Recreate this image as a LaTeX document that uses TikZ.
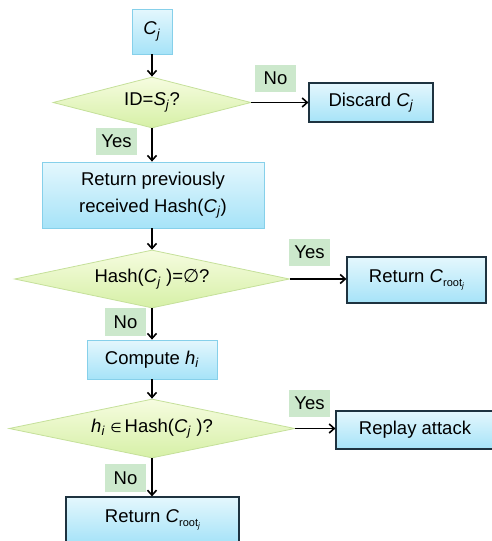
\documentclass[tikz,border=0pt]{standalone}
\usepackage{fontspec}
\setmainfont{Liberation Sans}
\newfontfamily\symf{DejaVu Sans}
\usetikzlibrary{shapes.geometric,arrows.meta}
\definecolor{boxtop}{HTML}{E4F7FD}
\definecolor{boxbot}{HTML}{A6E3F8}
\definecolor{boxline}{HTML}{86D0EA}
\definecolor{darkline}{HTML}{1E3340}
\definecolor{dtop}{HTML}{F6FCE0}
\definecolor{dbot}{HTML}{D6F0A6}
\definecolor{dline}{HTML}{C5E09A}
\definecolor{lblfill}{HTML}{CCE8CC}
\newcommand{\Cj}{\textit{C}\textsubscript{\textit{j}}}
\newcommand{\Croot}{\textit{C}{\fontsize{11}{13}\selectfont\raisebox{-4pt}{root\raisebox{-2pt}{\fontsize{8}{9}\selectfont\textit{j}}}}}
\tikzset{
  base/.style={inner sep=0pt, align=center, font=\fontsize{18.5}{27}\selectfont},
  lightbox/.style={base, rectangle, draw=boxline, line width=0.8pt, top color=boxtop, bottom color=boxbot},
  darkbox/.style={base, rectangle, draw=darkline, line width=1.2pt, top color=boxtop, bottom color=boxbot},
  decision/.style={base, diamond, draw=dline, line width=0.8pt, top color=dtop, bottom color=dbot},
  lbl/.style={base, rectangle, fill=lblfill, minimum width=41pt, minimum height=27pt},
  flow/.style={line width=1.8pt, -{Straight Barb[length=5pt,width=9pt,line width=1.6pt]}}
}
\begin{document}
\begin{tikzpicture}[x=1pt,y=1pt]
\useasboundingbox (0,0) rectangle (492,-541);
\clip (0,0) rectangle (492,-541);
\node[lightbox, minimum width=40pt, minimum height=45pt] (cj) at (152,-31.5) {\Cj};
\node[decision, minimum width=198pt, minimum height=51pt, aspect=3.9] (d1) at (152,-102.5) {ID=\textit{S}\textsubscript{\textit{j}}?};
\node[darkbox, minimum width=124pt, minimum height=39pt] (disc) at (371,-102.5) {Discard \Cj};
\node[lbl] (no1) at (275.5,-78) {No};
\node[lbl] (yes1) at (116.5,-141.5) {Yes};
\node[lightbox, minimum width=222pt, minimum height=66pt] (ret1) at (153,-195) {Return previously\\received Hash(\Cj)};
\node[decision, minimum width=275pt, minimum height=58pt, aspect=4.74] (d2) at (152,-279) {Hash(\Cj\ )={\symf ∅}?};
\node[lbl] (yes2) at (309.5,-252.5) {Yes};
\node[darkbox, minimum width=139pt, minimum height=46pt] (cr1) at (416.5,-280) {Return \Croot};
\node[lbl, minimum height=28pt] (no2) at (125.5,-322) {No};
\node[lightbox, minimum width=130pt, minimum height=39pt] (comp) at (152,-359.5) {Compute \textit{h}\textsubscript{\textit{i}}};
\node[decision, minimum width=286pt, minimum height=59pt, aspect=4.85] (d3) at (152,-428.5) {\textit{h}\textsubscript{\textit{i}} {\symf\fontsize{13}{15}\selectfont ∈}\,Hash(\Cj\ )?};
\node[lbl] (yes3) at (309.5,-403.5) {Yes};
\node[darkbox, minimum width=158pt, minimum height=38pt] (replay) at (415,-430) {Replay attack};
\node[lbl, minimum height=28pt] (no3) at (125.5,-478) {No};
\node[darkbox, minimum width=173pt, minimum height=46pt] (cr2) at (152.5,-520) {Return \Croot};
\draw[flow] (cj.south) -- (d1.north);
\draw[flow] (d1.south) -- (d1.south |- ret1.north);
\draw[flow] (d1.east) -- (disc.west);
\draw[flow] (ret1.south -| d2.north) -- (d2.north);
\draw[flow] (d2.east) -- (d2.east -| cr1.west);
\draw[flow] (d2.south) -- (comp.north);
\draw[flow] (comp.south) -- (d3.north);
\draw[flow] (d3.east) -- (d3.east -| replay.west);
\draw[flow] (d3.south) -- (d3.south |- cr2.north);
\end{tikzpicture}
\end{document}
